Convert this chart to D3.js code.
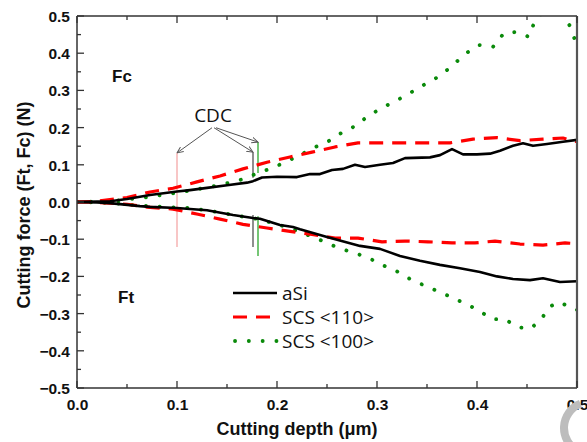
<!DOCTYPE html>
<html><head><meta charset="utf-8">
<script src="https://cdn.jsdelivr.net/npm/d3@7"></script>
<style>body{margin:0;background:#fff}svg{display:block}</style></head>
<body>
<svg id="c" width="587" height="442"></svg>
<script>
// ---------- data ----------
const xTicks = [0, 0.1, 0.2, 0.3, 0.4, 0.5];
const yTicks = [-0.5, -0.4, -0.3, -0.2, -0.1, 0, 0.1, 0.2, 0.3, 0.4, 0.5];
const seriesNames = ["aSi", "SCS <110>", "SCS <100>"];

const aSiFcX = [0,0.02,0.033,0.05,0.073,0.1,0.113,0.13,0.15,0.17,0.176,0.185,0.2,0.22,0.233,0.243,0.255,0.266,0.278,0.288,0.303,0.316,0.328,0.353,0.363,0.375,0.386,0.4,0.413,0.423,0.436,0.446,0.456,0.47,0.486,0.5];
const aSiFcY = [0,0.001,0.002,0.008,0.019,0.028,0.032,0.038,0.045,0.052,0.056,0.066,0.068,0.067,0.075,0.075,0.086,0.089,0.1,0.094,0.1,0.105,0.118,0.12,0.126,0.142,0.128,0.128,0.13,0.138,0.151,0.158,0.151,0.156,0.162,0.167];

const aSiFtX = [0,0.02,0.033,0.063,0.073,0.1,0.113,0.13,0.156,0.176,0.183,0.203,0.216,0.223,0.25,0.283,0.303,0.323,0.343,0.363,0.383,0.403,0.42,0.436,0.453,0.466,0.483,0.5];
const aSiFtY = [0,-0.001,-0.003,-0.011,-0.013,-0.016,-0.019,-0.022,-0.035,-0.043,-0.045,-0.062,-0.067,-0.073,-0.094,-0.118,-0.126,-0.145,-0.158,-0.169,-0.178,-0.188,-0.2,-0.207,-0.21,-0.205,-0.215,-0.213];

const scs110FcX = [0,0.02,0.05,0.073,0.096,0.12,0.143,0.166,0.19,0.213,0.235,0.258,0.281,0.305,0.336,0.373,0.396,0.42,0.443,0.466,0.486,0.5];
const scs110FcY = [0,0.002,0.012,0.027,0.037,0.054,0.07,0.089,0.107,0.121,0.134,0.148,0.159,0.159,0.159,0.159,0.169,0.173,0.165,0.169,0.172,0.162];

const scs110FtX = [0,0.02,0.05,0.07,0.096,0.121,0.143,0.166,0.19,0.213,0.235,0.258,0.281,0.305,0.328,0.351,0.375,0.398,0.418,0.443,0.466,0.488,0.5];
const scs110FtY = [0,-0.001,-0.006,-0.014,-0.019,-0.033,-0.046,-0.06,-0.07,-0.079,-0.087,-0.097,-0.097,-0.107,-0.105,-0.107,-0.11,-0.11,-0.105,-0.113,-0.116,-0.11,-0.112];

const scs100FcX = [0,0.02,0.04,0.07,0.085,0.112,0.126,0.14,0.154,0.167,0.181,0.195,0.209,0.223,0.236,0.25,0.264,0.278,0.291,0.305,0.319,0.333,0.347,0.361,0.374,0.388,0.402,0.416,0.427,0.44,0.452,0.457,0.468,0.48,0.493,0.498];
const scs100FcY = [0,0.001,0.004,0.013,0.019,0.03,0.037,0.044,0.053,0.062,0.078,0.091,0.108,0.126,0.145,0.161,0.185,0.204,0.231,0.253,0.272,0.293,0.315,0.336,0.363,0.398,0.422,0.417,0.454,0.457,0.444,0.481,0.52,0.525,0.473,0.435];

const scs100FtX = [0,0.02,0.04,0.07,0.085,0.112,0.14,0.167,0.181,0.195,0.209,0.223,0.236,0.25,0.264,0.278,0.292,0.305,0.319,0.333,0.346,0.36,0.374,0.387,0.401,0.415,0.428,0.44,0.453,0.464,0.472,0.483,0.496,0.5];
const scs100FtY = [0,-0.001,-0.004,-0.011,-0.013,-0.016,-0.027,-0.04,-0.046,-0.056,-0.067,-0.081,-0.094,-0.11,-0.126,-0.137,-0.151,-0.169,-0.185,-0.207,-0.223,-0.239,-0.255,-0.272,-0.29,-0.315,-0.315,-0.336,-0.341,-0.317,-0.282,-0.269,-0.288,-0.29];

// CDC marker segments (data units)
const cdcX = [0.1, 0.176, 0.181];
const cdcUpper = [[0.132, -0.121], [0.134, 0.065], [0.161, 0.078]];
const cdcLower = [null, [-0.035, -0.121], [-0.038, -0.145]];
const cdcText = {x: 0.136, y: 0.205, label: "CDC"};

// ---------- layout ----------
const W = 587, H = 442;
const L = 77, R = 577, T = 16, B = 388;
const x = d3.scaleLinear().domain([0, 0.5]).range([L, R]);
const y = d3.scaleLinear().domain([-0.5, 0.5]).range([B, T]);
const svg = d3.select("#c");

const zip = (xs, ys) => xs.map((v, i) => [v, ys[i]]);
const styles = [
  {color: "#000", width: 2.6, dash: null, cap: "butt"},
  {color: "#ff0000", width: 3.2, dash: "14 9", cap: "butt"},
  {color: "#0a8a0a", width: 3.8, dash: "0.1 13.7", cap: "round"}
];

svg.append("defs").append("clipPath").attr("id", "clip")
  .append("rect").attr("x", L).attr("y", T).attr("width", R - L).attr("height", B - T);

// CDC vertical markers (behind curves)
const markColors = ["#f4a0a0", "#444", "#1aa01a"];
const gm = svg.append("g");
cdcX.forEach((cx, i) => {
  [cdcUpper[i], cdcLower[i]].forEach(seg => {
    if (!seg) return;
    gm.append("line").attr("x1", x(cx)).attr("x2", x(cx))
      .attr("y1", y(seg[0])).attr("y2", y(seg[1]))
      .attr("stroke", markColors[i]).attr("stroke-width", 1.2);
  });
});

// curves
const line = d3.line().x(d => x(d[0])).y(d => y(d[1]));
const gc = svg.append("g").attr("clip-path", "url(#clip)");
const curves = [
  [zip(aSiFcX, aSiFcY), 0], [zip(aSiFtX, aSiFtY), 0],
  [zip(scs110FcX, scs110FcY), 1], [zip(scs110FtX, scs110FtY), 1],
  [zip(scs100FcX, scs100FcY), 2], [zip(scs100FtX, scs100FtY), 2]
];
[2, 1, 0].forEach(si => {
  curves.filter(c => c[1] === si).forEach(c => {
    const s = styles[si];
    gc.append("path").attr("d", line(c[0])).attr("fill", "none")
      .attr("stroke", s.color).attr("stroke-width", s.width)
      .attr("stroke-dasharray", s.dash).attr("stroke-linecap", s.cap)
      .attr("stroke-linejoin", "round");
  });
});

// arrows
const defs = svg.select("defs");
defs.append("marker").attr("id", "arr").attr("viewBox", "0 0 10 10")
  .attr("refX", 9).attr("refY", 5).attr("markerWidth", 7).attr("markerHeight", 7)
  .attr("markerUnits", "userSpaceOnUse").attr("orient", "auto")
  .append("path").attr("d", "M0,1 L9,5 L0,9").attr("fill", "none")
  .attr("stroke", "#555").attr("stroke-width", 1.3);
const arrowEnds = [[cdcX[0], cdcUpper[0][0]], [cdcX[1], cdcUpper[1][0]], [cdcX[2], cdcUpper[2][0]]];
arrowEnds.forEach((e, i) => {
  svg.append("line").attr("x1", x(cdcText.x) - 1 + i * 2).attr("y1", y(cdcText.y) + 2)
    .attr("x2", x(e[0])).attr("y2", y(e[1]))
    .attr("stroke", "#555").attr("stroke-width", 1).attr("marker-end", "url(#arr)");
});
svg.append("text").attr("x", x(cdcText.x)).attr("y", y(cdcText.y) - 4)
  .attr("text-anchor", "middle").attr("font-family", "'Open Sans', 'Noto Sans', sans-serif")
  .attr("font-size", 19).attr("fill", "#111").text(cdcText.label);

// axes frame
const axisColor = "#333";
svg.append("line").attr("x1", L).attr("x2", R).attr("y1", T).attr("y2", T).attr("stroke", axisColor).attr("stroke-width", 1.5);
svg.append("line").attr("x1", L).attr("x2", R).attr("y1", B).attr("y2", B).attr("stroke", axisColor).attr("stroke-width", 1.5);
svg.append("line").attr("x1", L).attr("x2", L).attr("y1", T).attr("y2", B).attr("stroke", axisColor).attr("stroke-width", 1.5);
svg.append("line").attr("x1", R).attr("x2", R).attr("y1", T).attr("y2", B).attr("stroke", "#555").attr("stroke-width", 2.2);

const fontB = "'Liberation Sans', Arial, sans-serif";
// bottom axis
const xAxis = d3.axisBottom(x).tickValues(xTicks).tickSize(0).tickFormat(d3.format(".1f"));
const gx = svg.append("g").attr("transform", `translate(0,${B})`).call(xAxis);
gx.select(".domain").remove();
gx.selectAll("text").attr("font-family", fontB).attr("font-weight", "bold").attr("font-size", 15.5)
  .attr("fill", "#111").attr("dy", 0).attr("y", 22);
// y axis
const yAxis = d3.axisLeft(y).tickValues(yTicks).tickSize(0).tickFormat(d3.format(".1f"));
const gy = svg.append("g").attr("transform", `translate(${L},0)`).call(yAxis);
gy.select(".domain").remove();
gy.selectAll("text").attr("font-family", fontB).attr("font-weight", "bold").attr("font-size", 15.5)
  .attr("fill", "#111").attr("x", -7).attr("dy", "0.36em");

// inward ticks
const xMinor = d3.range(0, 0.5001, 0.05);
const yMinor = d3.range(-0.5, 0.5001, 0.05);
const isMajor = v => Math.abs(Math.round(v * 10) - v * 10) < 1e-6;
const gt = svg.append("g").attr("stroke", axisColor).attr("stroke-width", 1.3);
xMinor.forEach(v => {
  const len = isMajor(v) ? 7 : 4;
  gt.append("line").attr("x1", x(v)).attr("x2", x(v)).attr("y1", B).attr("y2", B - len);
  gt.append("line").attr("x1", x(v)).attr("x2", x(v)).attr("y1", T).attr("y2", T + len);
});
yMinor.forEach(v => {
  const len = isMajor(v) ? 7 : 4;
  gt.append("line").attr("x1", L).attr("x2", L + len).attr("y1", y(v)).attr("y2", y(v));
});

// axis titles
svg.append("text").attr("x", 297).attr("y", 435).attr("text-anchor", "middle")
  .attr("font-family", fontB).attr("font-weight", "bold").attr("font-size", 18).attr("fill", "#111")
  .text("Cutting depth (\u03bcm)");
svg.append("text").attr("transform", "translate(30,205) rotate(-90)").attr("text-anchor", "middle")
  .attr("font-family", fontB).attr("font-weight", "bold").attr("font-size", 18).attr("fill", "#111")
  .text("Cutting force (Ft, Fc) (N)");

// Fc / Ft labels
svg.append("text").attr("x", 112).attr("y", 82).attr("font-family", fontB).attr("font-weight", "bold")
  .attr("font-size", 17).attr("fill", "#111").text("Fc");
svg.append("text").attr("x", 118).attr("y", 303).attr("font-family", fontB).attr("font-weight", "bold")
  .attr("font-size", 17).attr("fill", "#111").text("Ft");

// legend
const lg = svg.append("g");
const legY = [293, 317, 341];
seriesNames.forEach((n, i) => {
  const s = styles[i];
  lg.append("line").attr("x1", i === 2 ? 235 : 233).attr("x2", 277).attr("y1", legY[i]).attr("y2", legY[i])
    .attr("stroke", s.color).attr("stroke-width", s.width)
    .attr("stroke-dasharray", i === 1 ? "14 9" : s.dash).attr("stroke-linecap", s.cap);
  lg.append("text").attr("x", 282).attr("y", legY[i] + 6.5)
    .attr("font-family", "'Open Sans', 'Noto Sans', sans-serif").attr("font-size", 19)
    .attr("fill", "#111").text(n);
});

// grey arc artifact bottom-right
svg.append("path")
  .attr("d", d3.arc()({innerRadius: 22, outerRadius: 30, startAngle: -Math.PI * 0.12, endAngle: -Math.PI * 0.85}))
  .attr("transform", "translate(590,428)").attr("fill", "#bdbdbd");
</script>
</body></html>
